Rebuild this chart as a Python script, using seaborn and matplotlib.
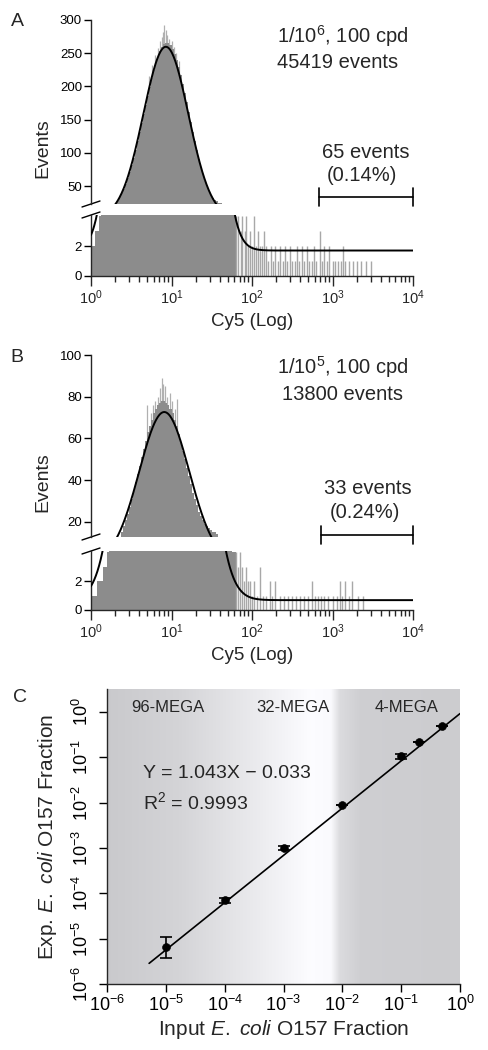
import numpy as np
import matplotlib
matplotlib.use("Agg")
import matplotlib.pyplot as plt
import seaborn as sns

# ---------------- data ----------------
# histograms: log10(Cy5) left bin edges start at 0, step 0.025
bin_step = 0.025
a_counts = [2, 2, 3, 3, 4, 5, 6, 8, 10, 12, 15, 19, 23, 27, 33, 39, 46, 53,
            62, 71, 82, 93, 105, 118, 131, 145, 158, 172, 186, 199, 212, 224, 236, 245,
            253, 259, 264, 266, 265, 262, 256, 249, 240, 229, 217, 204, 190, 176, 161, 146,
            132, 118, 104, 91, 79, 68, 58, 50, 43, 37, 32, 29, 27, 25, 24, 20, 15, 11,
            8, 6, 5, 4]
b_counts = [1, 1, 1, 2, 2, 2, 3, 3, 4, 5, 6, 7, 9, 11, 13, 15, 18, 21,
            24, 27, 31, 35, 39, 43, 47, 51, 55, 59, 63, 66, 69, 72, 74, 76, 77, 78,
            78, 77, 76, 74, 72, 69, 66, 62, 58, 54, 50, 46, 42, 38, 34, 31, 28, 25,
            23, 21, 19, 18, 17, 16, 15, 15, 14, 13, 11, 9, 7, 6, 5, 5, 4, 4]

# noisy spikes on top of the peak (log10 position, count)
a_spike_pos = [0.72, 0.76, 0.80, 0.83, 0.86, 0.88, 0.90, 0.91, 0.93, 0.95, 0.97, 1.00, 1.03, 1.06, 1.09]
a_spike_cnt = [215, 232, 248, 258, 268, 275, 282, 293, 285, 278, 272, 268, 260, 250, 238]
b_spike_pos = [0.70, 0.74, 0.77, 0.80, 0.83, 0.86, 0.88, 0.90, 0.92, 0.95, 0.98, 1.01, 1.04, 1.07]
b_spike_cnt = [76, 72, 76, 78, 80, 84, 89, 86, 85, 80, 82, 78, 74, 79]

# sparse tail events (log10 position, count)
a_tail_pos = [1.80, 1.83, 1.86, 1.88, 1.91, 1.93, 1.95, 1.97, 2.00, 2.02, 2.05, 2.07, 2.10, 2.12,
              2.15, 2.18, 2.20, 2.23, 2.26, 2.29, 2.32, 2.35, 2.38, 2.41, 2.44, 2.47, 2.50, 2.53,
              2.56, 2.59, 2.62, 2.65, 2.68, 2.71, 2.74, 2.77, 2.80, 2.84, 2.87, 2.90, 2.93, 2.96,
              3.00, 3.03, 3.07, 3.10, 3.13, 3.16, 3.20, 3.25, 3.30, 3.35, 3.42, 3.48]
a_tail_cnt = [4, 4, 3, 4, 3, 4, 2, 3, 2, 4, 2, 3, 2, 2,
              3, 2, 1, 2, 1, 2, 1, 2, 1, 2, 1, 2, 1, 1,
              2, 1, 2, 1, 2, 1, 1, 2, 1, 3, 1, 2, 1, 2,
              1, 1, 1, 1, 2, 1, 1, 1, 1, 1, 1, 1]
b_tail_pos = [1.80, 1.83, 1.85, 1.88, 1.90, 1.93, 1.95, 1.98, 2.00, 2.03, 2.06, 2.10, 2.14, 2.18,
              2.22, 2.25, 2.29, 2.35, 2.40, 2.45, 2.50, 2.55, 2.60, 2.65, 2.70, 2.74, 2.78, 2.82,
              2.86, 2.90, 2.95, 3.00, 3.05, 3.09, 3.12, 3.16, 3.20, 3.24, 3.32, 3.38]
b_tail_cnt = [4, 3, 4, 3, 2, 3, 2, 2, 1, 2, 1, 3, 1, 1,
              2, 1, 2, 1, 1, 1, 1, 1, 1, 1, 1, 2, 1, 1,
              1, 1, 1, 1, 1, 2, 1, 2, 1, 2, 1, 1]

# gaussian fits (log scale) + baseline
a_fit = dict(amp=258, center=0.93, sigma=0.28, base=1.7)
b_fit = dict(amp=72, center=0.91, sigma=0.31, base=0.68)

# gates
a_gate = [680, 1e4]
b_gate = [720, 1e4]

# panel C
input_frac = [1e-5, 1e-4, 1e-3, 1e-2, 1e-1, 0.2, 0.5]
exp_frac = [6.5e-6, 7.0e-5, 1.0e-3, 9.0e-3, 0.105, 0.22, 0.50]
err_low = [2.7e-6, 8e-6, 9e-5, 0, 1.5e-2, 0, 0]
err_high = [4.5e-6, 8e-6, 9e-5, 0, 1.5e-2, 0, 0]
slope, intercept = 1.043, -0.033
fit_range = [5.2e-6, 1.0]
region_names = ["96-MEGA", "32-MEGA", "4-MEGA"]

# ---------------- style ----------------
sns.set_style("ticks")
plt.rcParams['font.family'] = ['Liberation Sans', 'DejaVu Sans']
plt.rcParams['mathtext.fontset'] = 'custom'
plt.rcParams['mathtext.rm'] = 'Liberation Sans'
plt.rcParams['mathtext.it'] = 'Liberation Sans:italic'
plt.rcParams['mathtext.default'] = 'regular'
plt.rcParams['axes.linewidth'] = 1.0

W, H = 488, 1050
fig = plt.figure(figsize=(W / 100, H / 100), dpi=100)


def place(x0, ytop, x1, ybot, **kw):
    return fig.add_axes([x0 / W, 1 - ybot / H, (x1 - x0) / W, (ybot - ytop) / H], **kw)


def ftext(x, y, s, **kw):
    fig.text(x / W, 1 - y / H, s, **kw)


hist_gray = '#8c8c8c'


def hist_panel(ax, counts, spike_pos, spike_cnt, tail_pos, tail_cnt, fit):
    ax.vlines(10 ** np.array(spike_pos), 0, spike_cnt, color='#b0b0b0', lw=0.9, zorder=1)
    edges = np.arange(len(counts)) * bin_step
    sns.histplot(x=10 ** (edges + bin_step / 2), weights=counts, binwidth=bin_step,
                 binrange=(0, len(counts) * bin_step), log_scale=True, color=hist_gray,
                 alpha=1, linewidth=0, edgecolor='none', ax=ax, zorder=2)
    ax.vlines(10 ** np.array(tail_pos), 0, tail_cnt, color='#a8a8a8', lw=1.0, zorder=2)
    xs = np.linspace(0, 4, 600)
    ys = fit['amp'] * np.exp(-(xs - fit['center']) ** 2 / (2 * fit['sigma'] ** 2)) + fit['base']
    ax.plot(10 ** xs, ys, color='black', lw=1.4, zorder=3)
    ax.set_xlim(1, 1e4)
    ax.set_xlabel('')
    ax.set_ylabel('')


def breaks(ax_up, ax_lo, up_h, lo_h):
    # "//" marks on the left spine
    w = 322
    for ax, h, y in [(ax_up, up_h, 0), (ax_lo, lo_h, 1)]:
        ax.plot([-9 / w, 9 / w], [y - 3 / h, y + 3 / h], transform=ax.transAxes,
                color='black', lw=1.0, clip_on=False)


def build(ytops, ylims_up, yticks_up, counts, spikes, tails, fit, gate, gate_y, texts):
    up_top, up_bot, lo_top, lo_bot = ytops
    ax_up = place(91, up_top, 413, up_bot)
    ax_lo = place(91, lo_top, 413, lo_bot)
    for ax in (ax_up, ax_lo):
        hist_panel(ax, counts, spikes[0], spikes[1], tails[0], tails[1], fit)
    ax_up.set_ylim(*ylims_up)
    ax_up.set_yticks(yticks_up)
    ax_up.set_xticks([])
    ax_up.minorticks_off()
    ax_up.tick_params(axis='x', which='both', bottom=False, labelbottom=False)
    for s in ['top', 'right', 'bottom']:
        ax_up.spines[s].set_visible(False)
    ax_lo.set_ylim(0, 4.07)
    ax_lo.set_yticks([0, 2])
    for s in ['top', 'right']:
        ax_lo.spines[s].set_visible(False)
    ax_lo.set_xticks([1, 10, 100, 1000, 10000])
    ax_lo.xaxis.set_minor_locator(matplotlib.ticker.LogLocator(base=10, subs=np.arange(2, 10)))
    ax_lo.xaxis.set_minor_formatter(matplotlib.ticker.NullFormatter())
    for ax in (ax_up, ax_lo):
        ax.tick_params(axis='y', length=5, width=1, labelsize=9.5, pad=1.5, colors='black')
    ax_lo.tick_params(axis='x', which='major', length=7, width=1, labelsize=10.5, pad=2)
    ax_lo.tick_params(axis='x', which='minor', length=4.5, width=1)
    breaks(ax_up, ax_lo, up_bot - up_top, lo_bot - lo_top)
    # gate bracket
    ax_up.plot(gate, [gate_y[0]] * 2, color='black', lw=1.2, clip_on=False)
    for gx in gate:
        ax_up.plot([gx, gx], [gate_y[0] - gate_y[1], gate_y[0] + gate_y[1]], color='black',
                   lw=1.2, clip_on=False)
    for (x, y, s) in texts:
        ftext(x, y, s, ha='center', va='center', fontsize=14.5)
    return ax_up, ax_lo


build((20, 204, 215, 276), (23, 300), [50, 100, 150, 200, 250, 300], a_counts,
      (a_spike_pos, a_spike_cnt), (a_tail_pos, a_tail_cnt), a_fit, a_gate, (33, 13.5),
      [(343, 36, '1/10$^6$, 100 cpd'), (338, 63, '45419 events'),
       (366, 152, '65 events'), (362, 176, '(0.14%)')])
build((355, 537, 551, 610), (12.8, 100), [20, 40, 60, 80, 100], b_counts,
      (b_spike_pos, b_spike_cnt), (b_tail_pos, b_tail_cnt), b_fit, b_gate, (13.8, 4.3),
      [(343, 367, '1/10$^5$, 100 cpd'), (343, 395, '13800 events'),
       (368, 489, '33 events'), (365, 513, '(0.24%)')])

for (x, y, s) in [(17, 22, 'A'), (17, 357, 'B'), (20, 698, 'C')]:
    ftext(x, y, s, ha='center', va='center', fontsize=14)
for y in (148, 482):
    ftext(43, y, 'Events', ha='center', va='center', rotation=90, fontsize=14)
for y in (322, 656):
    ftext(252, y, 'Cy5 (Log)', ha='center', va='center', fontsize=13.5)

# ---------------- panel C ----------------
bg = place(107, 689, 460, 984, zorder=0)
stops_x = [0.0, 0.20, 0.42, 0.58, 0.635, 0.66, 0.72, 1.0]
stops_v = [0.79, 0.83, 0.92, 0.99, 0.98, 0.86, 0.81, 0.80]
gx = np.linspace(0, 1, 400)
gv = np.interp(gx, stops_x, stops_v)
img = np.stack([gv, gv, np.minimum(gv + 0.012, 1)], axis=-1)[None, :, :]
bg.imshow(img, aspect='auto', extent=[0, 1, 0, 1])
bg.axis('off')

axc = place(107, 689, 460, 984, zorder=1)
axc.set_facecolor('none')
axc.set_xscale('log')
axc.set_yscale('log')
lx = np.log10(fit_range)
fx = np.logspace(lx[0], lx[1], 50)
axc.plot(fx, 10 ** (slope * np.log10(fx) + intercept), color='black', lw=1.2, zorder=2)
axc.errorbar(input_frac, exp_frac, yerr=[err_low, err_high], fmt='none', ecolor='black',
             elinewidth=1.2, capsize=4, capthick=1.2, zorder=3)
sns.scatterplot(x=input_frac, y=exp_frac, color='black', s=32, edgecolor='black', ax=axc, zorder=4)
axc.set_xlim(1e-6, 1)
axc.set_ylim(1e-6, 10 ** 0.51)
axc.set_xticks([1e-6, 1e-5, 1e-4, 1e-3, 1e-2, 1e-1, 1])
axc.set_yticks([1e-6, 1e-5, 1e-4, 1e-3, 1e-2, 1e-1, 1])
axc.minorticks_off()
axc.spines['top'].set_visible(False)
axc.spines['right'].set_visible(False)
axc.tick_params(axis='both', length=6, width=1, labelsize=13, colors='black')
axc.tick_params(axis='x', pad=2)
axc.tick_params(axis='y', pad=5)
for lab in axc.get_yticklabels():
    lab.set_rotation(90)
    lab.set_va('center')
axc.set_xlabel('Input $\\it{E.}$ $\\it{coli}$ O157 Fraction', fontsize=15, labelpad=2)
axc.set_ylabel('Exp. $\\it{E.}$ $\\it{coli}$ O157 Fraction', fontsize=15, labelpad=9)

for name, x in zip(region_names, [168, 293, 407]):
    ftext(x, 707, name, ha='center', va='center', fontsize=12)
ftext(143, 774, 'Y = 1.043X \u2212 0.033', ha='left', va='center', fontsize=14)
ftext(143, 802, 'R$^2$ = 0.9993', ha='left', va='center', fontsize=14)

fig.savefig('out.png', dpi=100)
